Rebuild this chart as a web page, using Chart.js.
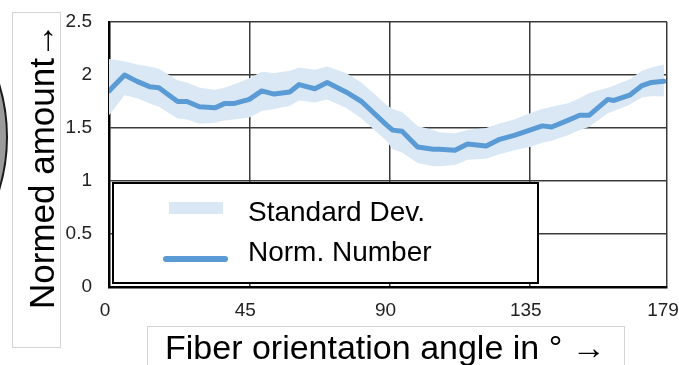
<!DOCTYPE html>
<html lang="en">
<head>
  <meta charset="UTF-8">
  <title>Normed amount vs fiber orientation angle</title>
  <script src="https://cdn.jsdelivr.net/npm/chart.js"></script>
  <style>
    body { margin: 0; background: #fff; }
  </style>
</head>
<body>
  <canvas id="fiberChart" width="679" height="365"></canvas>

  <script>
    // values
    const angles = [0, 5, 9, 13, 16, 22, 25, 29, 34, 37, 40, 45, 49, 53, 58, 61, 66, 70, 76, 81,
                    89, 91, 94, 99, 104, 106, 111, 115, 121, 125, 130, 135, 139, 142, 147, 151, 154,
                    160, 162, 167, 171, 174, 178];
    const normNumber = [1.85, 2.00, 1.94, 1.89, 1.88, 1.75, 1.75, 1.70, 1.69, 1.73, 1.73, 1.77, 1.85, 1.82,
                        1.84, 1.91, 1.87, 1.93, 1.84, 1.75, 1.53, 1.48, 1.47, 1.32, 1.30, 1.30, 1.29, 1.35,
                        1.33, 1.39, 1.43, 1.48, 1.52, 1.51, 1.57, 1.62, 1.62, 1.77, 1.76, 1.81, 1.90, 1.93, 1.94];
    const stdUpper = [2.15, 2.13, 2.10, 2.08, 2.06, 1.95, 1.93, 1.88, 1.86, 1.88, 1.91, 1.97, 2.03, 2.02,
                      2.04, 2.07, 2.05, 2.08, 2.02, 1.93, 1.72, 1.68, 1.65, 1.52, 1.48, 1.46, 1.45, 1.48,
                      1.50, 1.54, 1.58, 1.64, 1.68, 1.70, 1.73, 1.78, 1.83, 1.88, 1.90, 1.96, 2.04, 2.07, 2.10];
    const stdLower = [1.62, 1.81, 1.78, 1.73, 1.70, 1.59, 1.58, 1.54, 1.55, 1.57, 1.58, 1.60, 1.66, 1.68,
                      1.71, 1.76, 1.74, 1.77, 1.69, 1.59, 1.38, 1.30, 1.27, 1.17, 1.14, 1.14, 1.15, 1.20,
                      1.21, 1.25, 1.29, 1.32, 1.36, 1.38, 1.43, 1.48, 1.51, 1.64, 1.66, 1.72, 1.79, 1.80, 1.80];
    const xTicks = [0, 45, 90, 135, 179];
    const yTicks = [0, 0.5, 1, 1.5, 2, 2.5];

    const lineColor = '#5B9BD5';
    const bandColor = '#DAE8F6';
    const fontName = '"Liberation Sans", Arial, sans-serif';

    function toPoints(ys) {
      return angles.map((a, i) => ({ x: a, y: ys[i] }));
    }

    // titles, boxes and the cut-off circle on the left
    const decorations = {
      id: 'decorations',
      beforeDraw(chart) {
        const ctx = chart.ctx;
        ctx.save();
        // big grey circle, mostly off-canvas
        ctx.beginPath();
        ctx.arc(-175, 137, 182, 0, Math.PI * 2);
        ctx.fillStyle = '#9b9b9b';
        ctx.fill();
        ctx.lineWidth = 2;
        ctx.strokeStyle = '#1a1a1a';
        ctx.stroke();

        // y title box + text
        ctx.lineWidth = 1;
        ctx.strokeStyle = '#d4d4d4';
        ctx.strokeRect(12.5, 12.5, 48, 335);
        ctx.fillStyle = '#000';
        ctx.font = '35px ' + fontName;
        ctx.textAlign = 'left';
        ctx.textBaseline = 'alphabetic';
        ctx.save();
        ctx.translate(54, 309);
        ctx.rotate(-Math.PI / 2);
        ctx.fillText('Normed amount\u2192', 0, 0);
        ctx.restore();

        // x title box + text
        ctx.font = '34px ' + fontName;
        ctx.strokeRect(147.5, 326.5, 477, 60);
        ctx.fillText('Fiber orientation angle in \u00b0 \u2192', 165, 359);
        ctx.restore();
      }
    };

    // legend box inside the plot
    const boxLegend = {
      id: 'boxLegend',
      afterDraw(chart) {
        const ctx = chart.ctx;
        const area = chart.chartArea;
        const left = area.left + 4, top = 183, right = 538, bottom = area.bottom - 4;
        ctx.save();
        ctx.fillStyle = '#fff';
        ctx.fillRect(left, top, right - left, bottom - top);
        ctx.lineWidth = 2;
        ctx.strokeStyle = '#000';
        ctx.strokeRect(left, top, right - left, bottom - top);

        ctx.fillStyle = bandColor;
        ctx.fillRect(169, 202, 54, 12);

        ctx.beginPath();
        ctx.moveTo(166, 259);
        ctx.lineTo(225, 259);
        ctx.lineWidth = 6;
        ctx.lineCap = 'round';
        ctx.strokeStyle = lineColor;
        ctx.stroke();

        ctx.fillStyle = '#000';
        ctx.font = '28px ' + fontName;
        ctx.textAlign = 'left';
        ctx.textBaseline = 'middle';
        ctx.fillText(chart.data.datasets[1].label, 248, 213);
        ctx.fillText(chart.data.datasets[0].label, 248, 253);
        ctx.restore();
      }
    };

    const ctx = document.getElementById('fiberChart').getContext('2d');
    new Chart(ctx, {
      type: 'line',
      data: {
        datasets: [
          {
            label: 'Norm. Number',
            data: toPoints(normNumber),
            borderColor: lineColor,
            borderWidth: 5,
            borderCapStyle: 'round',
            borderJoinStyle: 'round',
            fill: false,
            order: 0
          },
          {
            label: 'Standard Dev.',
            data: toPoints(stdUpper),
            borderWidth: 0,
            borderColor: 'rgba(0,0,0,0)',
            backgroundColor: bandColor,
            fill: '+1',
            order: 1
          },
          {
            label: 'Std lower',
            data: toPoints(stdLower),
            borderWidth: 0,
            borderColor: 'rgba(0,0,0,0)',
            fill: false,
            order: 2
          }
        ]
      },
      options: {
        responsive: false,
        animation: false,
        layout: { padding: { left: 49, top: 22, right: 12, bottom: 0 } },
        elements: { point: { radius: 0 }, line: { tension: 0 } },
        plugins: {
          legend: { display: false },
          tooltip: { enabled: false }
        },
        scales: {
          x: {
            type: 'linear',
            min: 0,
            max: 179,
            afterBuildTicks: s => { s.ticks = xTicks.map(v => ({ value: v })); },
            afterFit: s => { s.height = 78; s.paddingLeft = 0; s.paddingRight = 0; },
            grid: { color: '#3a3a3a', lineWidth: 1.5, drawTicks: false },
            border: { color: '#000', width: 2.5 },
            ticks: {
              color: '#222', font: { family: fontName, size: 19 }, padding: 12,
              maxRotation: 0, labelOffset: -4, callback: v => String(v)
            }
          },
          y: {
            min: 0,
            max: 2.5,
            afterBuildTicks: s => { s.ticks = yTicks.map(v => ({ value: v })); },
            afterFit: s => { s.width = 60; s.paddingTop = 0; s.paddingBottom = 0; },
            grid: { color: '#3a3a3a', lineWidth: 1.5, drawTicks: false },
            border: { color: '#000', width: 2.5 },
            ticks: {
              color: '#222', font: { family: fontName, size: 19 }, padding: 17,
              callback: v => String(v)
            }
          }
        }
      },
      plugins: [decorations, boxLegend]
    });
  </script>
</body>
</html>
